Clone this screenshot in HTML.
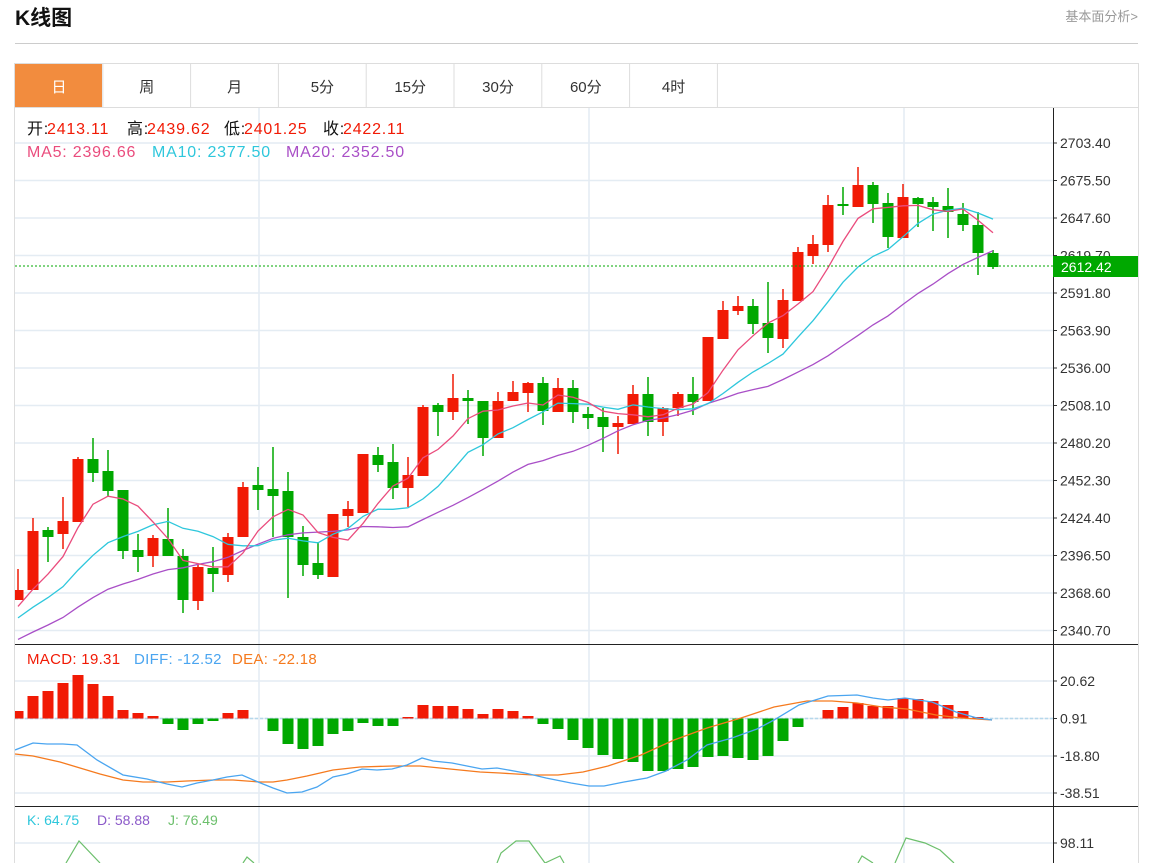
<!DOCTYPE html>
<html><head><meta charset="utf-8">
<style>
body{margin:0;width:1150px;height:863px;overflow:hidden;background:#fff;font-family:"Liberation Sans","Noto Sans CJK SC",sans-serif;}
svg{position:absolute;left:0;top:0}
</style></head><body>
<svg id="s" width="1150" height="863" xmlns="http://www.w3.org/2000/svg" font-family="Liberation Sans, Noto Sans CJK SC, sans-serif">
<text x="15" y="25" font-size="21" font-weight="bold" fill="#111">K线图</text>
<text x="1138" y="21" font-size="13" fill="#999" text-anchor="end">基本面分析&gt;</text>
<line x1="15" y1="43.5" x2="1138" y2="43.5" stroke="#ccc"/>
<rect x="14.5" y="63.5" width="1124" height="820" fill="none" stroke="#ddd"/>
<line x1="15" y1="107.5" x2="1138" y2="107.5" stroke="#ddd"/>
</svg>
<script>
const S=document.getElementById('s');const NS='http://www.w3.org/2000/svg';
function el(t,a,p,txt){const e=document.createElementNS(NS,t);for(const k in a)e.setAttribute(k,a[k]);if(txt!==undefined)e.textContent=txt;(p||S).appendChild(e);return e;}
const tabs=['日','周','月','5分','15分','30分','60分','4时'];
tabs.forEach((t,i)=>{const x=15+i*87.8;
 if(i==0)el('rect',{x:15,y:64,width:87,height:43,fill:'#f28c3e'});
 el('line',{x1:x+87.8,y1:64,x2:x+87.8,y2:107,stroke:'#ddd'});
 el('text',{x:x+44,y:92,'font-size':15,'text-anchor':'middle',fill:i==0?'#fff':'#333'},null,t);});
const gy=[143,180.5,218,255.5,293,330.5,368,405.5,443,480.5,518,555.5,593,630.5];
const gl=['2703.40','2675.50','2647.60','2619.70','2591.80','2563.90','2536.00','2508.10','2480.20','2452.30','2424.40','2396.50','2368.60','2340.70'];
const G='#e4ecf3';
gy.forEach((y,i)=>{el('line',{x1:15,y1:y,x2:1053,y2:y,stroke:G,'stroke-width':1.5});
 el('line',{x1:1053,y1:y,x2:1057,y2:y,stroke:'#333'});
 el('text',{x:1060,y:y+5,'font-size':14,fill:'#333'},null,gl[i]);});
[259,589,904].forEach(x=>el('line',{x1:x,y1:108,x2:x,y2:863,stroke:G,'stroke-width':1.5}));
[[681,'20.62'],[718.5,'0.91'],[756,'-18.80'],[793,'-38.51']].forEach(a=>{
 el('line',{x1:15,y1:a[0],x2:1053,y2:a[0],stroke:G,'stroke-width':1.5});
 el('line',{x1:1053,y1:a[0],x2:1057,y2:a[0],stroke:'#333'});
 el('text',{x:1060,y:a[0]+5,'font-size':14,fill:'#333'},null,a[1]);});
el('line',{x1:15,y1:843,x2:1053,y2:843,stroke:G,'stroke-width':1.5});
el('line',{x1:1053,y1:843,x2:1057,y2:843,stroke:'#333'});
el('text',{x:1060,y:848,'font-size':14,fill:'#333'},null,'98.11');
el('line',{x1:1053.5,y1:108,x2:1053.5,y2:863,stroke:'#222'});
el('line',{x1:15,y1:644.5,x2:1138,y2:644.5,stroke:'#222'});
el('line',{x1:15,y1:806.5,x2:1138,y2:806.5,stroke:'#222'});
const R='#f11a05',GR='#00a800';
const D=[[1,590,600,569,600],[1,531,590,518,590],[0,530,537,527,562],[1,521,534,497,549],[1,459,522,457,522],[0,459,473,438,482],[0,471,491,450,497],[0,490,551,490,559],[0,550,557,534,572],[1,538,556,535,567],[0,539,556,508,556],[0,556,600,549,613],[1,567,601,564,610],[0,568,574,547,592],[1,537,575,533,582],[1,487,537,482,537],[0,485,490,467,510],[0,489,496,447,537],[0,491,537,472,598],[0,537,565,526,576],[0,563,575,542,579],[1,514,577,514,577],[1,509,516,501,527],[1,454,513,454,513],[0,455,465,447,472],[0,462,488,444,499],[1,475,488,457,507],[1,407,476,405,476],[0,405,412,403,436],[1,398,412,374,420],[0,398,401,390,424],[0,401,438,401,456],[1,401,438,392,438],[1,392,401,381,401],[1,383,393,382,412],[0,383,411,377,425],[1,388,412,378,412],[0,388,412,380,423],[0,414,418,407,429],[0,417,427,408,452],[1,423,427,416,454],[1,394,424,385,424],[0,394,422,377,436],[1,408,422,407,436],[1,394,408,392,416],[0,394,402,377,415],[1,337,401,337,401],[1,310,339,301,339],[1,306,311,296,315],[0,306,324,299,334],[0,323,338,282,353],[1,300,339,289,348],[1,252,301,247,301],[1,244,256,235,264],[1,205,245,195,252],[0,204,206,187,215],[1,185,207,167,207],[0,185,204,182,223],[0,203,237,193,248],[1,197,238,184,238],[0,198,204,197,227],[0,202,207,197,231],[0,206,212,188,238],[0,214,225,203,231],[0,225,253,212,275],[0,253,267,250,269]];
const X=i=>18+15*i;
el('clipPath',{id:'c'});el('rect',{x:15,y:108,width:1038,height:536},S.lastChild);
const g=el('g',{'clip-path':'url(#c)'});
D.forEach((d,i)=>{const c=d[0]?R:GR,x=X(i);
 el('line',{x1:x,y1:d[3],x2:x,y2:d[4],stroke:c,'stroke-width':1.5},g);
 el('rect',{x:x-5.5,y:d[1],width:11,height:Math.max(1.5,d[2]-d[1]),fill:c},g);});
const cl=D.map(d=>d[0]?d[1]:d[2]);
const pre=[];for(let k=19;k>=1;k--)pre.push(600+k*4.2);
const all=pre.concat(cl);
function ma(n,col){let p=[];for(let i=0;i<cl.length;i++){let j=i+19,s=0;for(let k=0;k<n;k++)s+=all[j-k];p.push(X(i)+','+(s/n).toFixed(1));}
 el('polyline',{points:p.join(' '),fill:'none',stroke:col,'stroke-width':1.3},g);}
ma(20,'#a94fc7');ma(10,'#2ec7dc');ma(5,'#ea4c7d');
el('line',{x1:15,y1:266,x2:1053,y2:266,stroke:'#0a0','stroke-dasharray':'2,2'});
el('rect',{x:1053,y:256,width:85,height:21,fill:'#00a800'});
el('text',{x:1061,y:272,'font-size':14,fill:'#fff'},null,'2612.42');
function row(y,fs,ls,items){const t=el('text',{y:y,'font-size':fs,'letter-spacing':ls});items.forEach(a=>el('tspan',{x:a[0],fill:a[2]},t,a[1]));}
row(134,16,0.8,[[27,'开:','#111'],[47,'2413.11','#f11a05'],[127,'高:','#111'],[147,'2439.62','#f11a05'],[224,'低:','#111'],[244,'2401.25','#f11a05'],[323,'收:','#111'],[343,'2422.11','#f11a05']]);
row(157,16,0.8,[[27,'MA5: 2396.66','#ea4c7d'],[152,'MA10: 2377.50','#2ec7dc'],[286,'MA20: 2352.50','#a94fc7']]);
row(664,15,0.3,[[27,'MACD: 19.31','#f11a05'],[134,'DIFF: -12.52','#4aa5f0'],[232,'DEA: -22.18','#f57a1e']]);
row(825,14,0,[[27,'K: 64.75','#2ec7dc'],[97,'D: 58.88','#8b59c9'],[168,'J: 76.49','#6cbf6c']]);
const H=[711,696,691,683,675,684,696,710,713,716,724,730,724,721,713,710,718,731,744,749,746,734,731,723,726,726,717,705,706,706,709,714,709,711,716,724,729,740,748,755,759,762,771,771,769,767,757,756,758,760,756,741,727,718.5,710,707,703,706,706,698,699,701,705,711,717,718.5];
el('clipPath',{id:'c2'});el('rect',{x:15,y:645,width:1038,height:161},S.lastChild);
const g2=el('g',{'clip-path':'url(#c2)'});
el('line',{x1:15,y1:718.5,x2:1053,y2:718.5,stroke:'#b5d8ec','stroke-dasharray':'3,2','stroke-width':1.5},g2);
H.forEach((h,i)=>{const z=718.5;if(Math.abs(h-z)<0.6)return;const c=h<z?R:GR;
 el('rect',{x:X(i)-5.5,y:Math.min(h,z),width:11,height:Math.abs(h-z),fill:c},g2);});
const blue='15,750 33,743 47,744 63,744 77,745 97,760 123,775 147,779 167,784 182,787 197,783 213,780 227,777 242,775 258,782 273,788 287,793 302,792 317,787 333,777 347,774 362,769 377,770 392,769 407,765 422,758 433,761 452,763 467,766 482,769 497,768 525,773 546,778 571,783 589,786 604,786 624,782 647,778 666,771 687,760 707,745 732,738 757,729 774,720 799,705 828,696 857,695 873,698 888,700 905,698 932,702 956,712 977,718 992,720';
const orange='15,754 33,756 60,762 80,768 100,774 123,780 143,782 167,782 187,781 213,780 233,780 260,782 273,782 287,780 307,776 333,770 360,767 393,766 420,766 450,769 480,772 500,773 533,775 558,775 583,772 608,766 641,755 674,740 707,728 741,718 774,707 807,701 832,701 857,703 882,707 907,709 936,715 961,718 992,720';
el('polyline',{points:orange,fill:'none',stroke:'#f57a1e','stroke-width':1.3},g2);
el('polyline',{points:blue,fill:'none',stroke:'#4aa5f0','stroke-width':1.3},g2);
['66,863 79,841 100,863','243,863 247,857 254,863','497,863 501,853 516,841 529,841 545,863 560,856 564,863','858,863 862,856 873,863','895,863 906,838 925,843 940,850 954,863'].forEach(p=>el('polyline',{points:p,fill:'none',stroke:'#6cbf6c','stroke-width':1.2}));
</script>
</body></html>
